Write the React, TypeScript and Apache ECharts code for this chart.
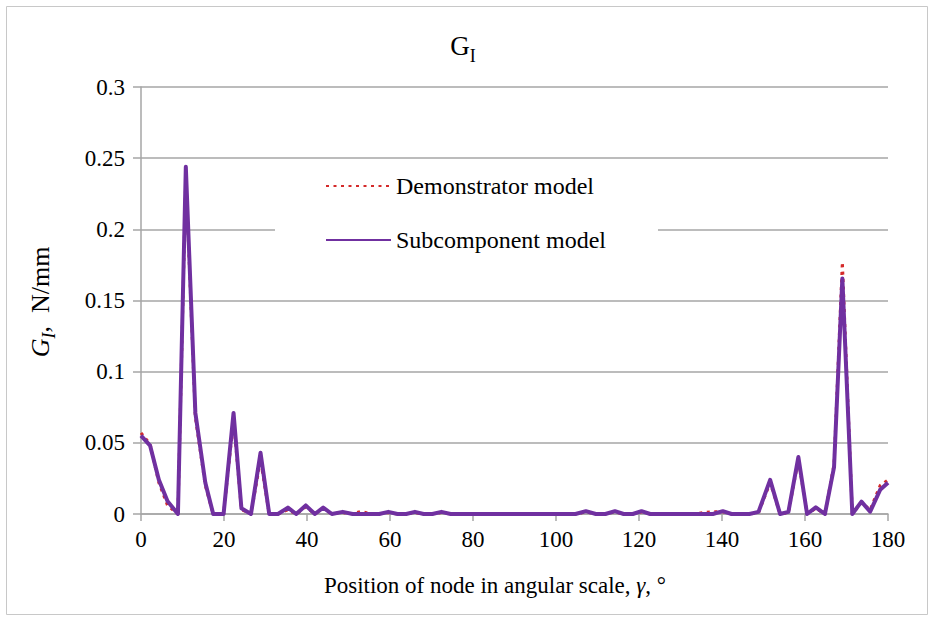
import React, { useEffect, useRef } from "react";
import * as echarts from "echarts";

// Node positions along the angular scale, degrees
const gamma: number[] = [
  0, 2.2, 4.3, 6.4, 8.9, 10.8, 13.1, 15.5, 17.4, 19.9, 22.3, 24.2, 26.5, 28.8,
  30.9, 33.0, 35.4, 37.4, 39.7, 41.9, 43.9, 46.0, 48.6, 51.0, 53.1, 55.3, 57.4,
  59.6, 61.8, 63.9, 66.0, 68.1, 70.2, 72.4, 74.6, 76.7, 78.8, 81.0, 83.1, 85.3,
  87.4, 89.6, 91.7, 93.9, 96.0, 98.2, 100.3, 102.5, 104.7, 107.2, 109.6, 111.9,
  114.2, 116.3, 118.5, 120.6, 122.7, 124.9, 127.0, 129.2, 131.3, 133.5, 135.6,
  137.8, 140.2, 142.3, 144.5, 146.6, 148.8, 151.6, 154.0, 156.0, 158.4, 160.5,
  162.6, 164.8, 167.0, 169.0, 171.4, 173.6, 175.7, 178.1, 180.0,
];

// G_I, N/mm — demonstrator model
const demonstrator: number[] = [
  0.057, 0.049, 0.022, 0.006, 0, 0.238, 0.068, 0.02, 0, 0, 0.066, 0.003, 0, 0.038,
  0, 0, 0.003, 0, 0.005, 0, 0.004, 0, 0.001, 0, 0.002, 0, 0,
  0.001, 0, 0, 0.001, 0, 0, 0.001, 0, 0, 0, 0, 0, 0,
  0, 0, 0, 0, 0, 0, 0, 0, 0, 0.0015, 0, 0,
  0.0015, 0, 0, 0.0015, 0, 0, 0, 0, 0, 0, 0.001,
  0.0015, 0.0015, 0, 0, 0, 0.001, 0.022, 0, 0.001, 0.038, 0,
  0.004, 0, 0.035, 0.177, 0, 0.008, 0.003, 0.02, 0.024,
];

// G_I, N/mm — subcomponent model
const subcomponent: number[] = [
  0.055, 0.048, 0.024, 0.009, 0, 0.244, 0.071, 0.022, 0, 0, 0.071, 0.004, 0, 0.043,
  0, 0, 0.0045, 0, 0.006, 0, 0.0045, 0, 0.0015, 0, 0, 0, 0,
  0.0015, 0, 0, 0.0015, 0, 0, 0.0015, 0, 0, 0, 0, 0, 0,
  0, 0, 0, 0, 0, 0, 0, 0, 0, 0.002, 0, 0,
  0.002, 0, 0, 0.002, 0, 0, 0, 0, 0, 0, 0,
  0, 0.002, 0, 0, 0, 0.0015, 0.024, 0, 0.0015, 0.04, 0,
  0.0047, 0, 0.033, 0.1655, 0, 0.0087, 0.0016, 0.017, 0.022,
];

const seriesNames = ["Demonstrator model", "Subcomponent model"];

// tick values printed along each axis
const xTicks = [0, 20, 40, 60, 80, 100, 120, 140, 160, 180];
const yTicks = ["0", "0.05", "0.1", "0.15", "0.2", "0.25", "0.3"];

const FONT = "Liberation Serif";
const GRID_GRAY = "#a6a6a6";

export default function App() {
  const ref = useRef<HTMLDivElement>(null);

  useEffect(() => {
    if (!ref.current) return;
    const chart = echarts.init(ref.current, undefined, { renderer: "svg" });

    const pairs = (ys: number[]) => gamma.map((g, i) => [g, ys[i]]);

    chart.setOption({
      animation: false,
      backgroundColor: "#ffffff",
      textStyle: { fontFamily: FONT },
      grid: { left: 141, right: 40, top: 87, bottom: 103 },
      legend: {
        orient: "vertical",
        left: 275,
        top: 164,
        itemWidth: 65,
        itemHeight: 20,
        itemGap: 30,
        padding: [10, 52, 10, 50],
        backgroundColor: "#ffffff",
        itemStyle: { opacity: 0 },
        textStyle: { fontFamily: FONT, fontSize: 24, color: "#000000" },
        data: seriesNames,
      },
      xAxis: {
        type: "value",
        min: 0,
        max: 180,
        interval: 20,
        axisLine: { show: true, lineStyle: { color: GRID_GRAY, width: 1.5 } },
        axisTick: { show: true, length: 7, lineStyle: { color: GRID_GRAY, width: 1.5 } },
        axisLabel: {
          show: true,
          fontFamily: FONT,
          fontSize: 23,
          color: "#000000",
          margin: 14,
          formatter: (v: number) => String(xTicks[Math.round(v / 20)]),
        },
        splitLine: { show: false },
      },
      yAxis: {
        type: "value",
        min: 0,
        max: 0.3,
        interval: 0.05,
        axisLine: { show: true, lineStyle: { color: GRID_GRAY, width: 1.5 } },
        axisTick: { show: true, length: 8, lineStyle: { color: GRID_GRAY, width: 1.5 } },
        axisLabel: {
          show: true,
          fontFamily: FONT,
          fontSize: 23,
          color: "#000000",
          margin: 16,
          formatter: (v: number) => yTicks[Math.round(v / 0.05)],
        },
        splitLine: { show: true, lineStyle: { color: GRID_GRAY, width: 1.5 } },
      },
      series: [
        {
          name: seriesNames[0],
          type: "line",
          data: pairs(demonstrator),
          symbol: "none",
          lineStyle: { color: "#d42a2a", width: 3, type: [3, 4.5], cap: "butt" },
          itemStyle: { color: "#d42a2a" },
          z: 2,
        },
        {
          name: seriesNames[1],
          type: "line",
          data: pairs(subcomponent),
          symbol: "none",
          lineStyle: { color: "#7030a0", width: 4, join: "round" },
          itemStyle: { color: "#7030a0" },
          z: 3,
        },
      ],
      graphic: [
        {
          type: "rect",
          left: 4,
          top: 4,
          shape: { width: 921, height: 608 },
          style: { fill: "none", stroke: "#c8c8c8", lineWidth: 1 },
          silent: true,
        },
        {
          type: "text",
          x: 463,
          y: 46,
          style: {
            text: "{g|G}{s|I}",
            align: "center",
            verticalAlign: "middle",
            rich: {
              g: { fontFamily: FONT, fontSize: 27, color: "#000", verticalAlign: "bottom" },
              s: { fontFamily: FONT, fontSize: 18, color: "#000", verticalAlign: "bottom", padding: [0, 0, -5, 0] },
            },
          },
        },
        {
          type: "text",
          x: 40,
          y: 302,
          rotation: Math.PI / 2,
          style: {
            text: "{g|G}{s|I}{n|,  N/mm}",
            align: "center",
            verticalAlign: "middle",
            rich: {
              g: { fontFamily: FONT, fontSize: 26, fontStyle: "italic", color: "#000", verticalAlign: "bottom" },
              s: { fontFamily: FONT, fontSize: 18, fontStyle: "italic", color: "#000", verticalAlign: "bottom", padding: [0, 0, -5, 0] },
              n: { fontFamily: FONT, fontSize: 26, color: "#000", verticalAlign: "bottom" },
            },
          },
        },
        {
          type: "text",
          x: 495,
          y: 585,
          style: {
            text: "{n|Position of node in angular scale, }{i|γ}{n|, °}",
            align: "center",
            verticalAlign: "middle",
            rich: {
              n: { fontFamily: FONT, fontSize: 23, color: "#000" },
              i: { fontFamily: FONT, fontSize: 23, fontStyle: "italic", color: "#000" },
            },
          },
        },
      ],
    });

    return () => chart.dispose();
  }, []);

  return (
    <div
      ref={ref}
      style={{
        position: "fixed",
        left: 0,
        top: 0,
        width: 928,
        height: 617,
        fontFamily: "Liberation Serif, serif",
      }}
    />
  );
}
